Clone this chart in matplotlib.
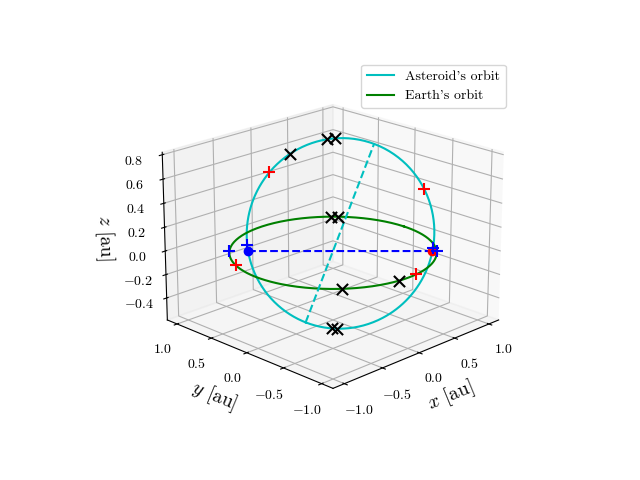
import numpy as np
import matplotlib
matplotlib.use("Agg")
import matplotlib.pyplot as plt

plt.rcParams["font.family"] = "serif"
plt.rcParams["font.serif"] = ["cmr10"]
plt.rcParams["mathtext.fontset"] = "cm"
plt.rcParams["axes.formatter.use_mathtext"] = True

# asteroid orbital elements (estimated)
a_ast = 0.93
e_ast = 0.22
inc = np.radians(40.0)
node = np.radians(-45.0)
argp = np.radians(249.0)

# true anomalies of markers on the asteroid orbit [deg]
nu_black = [20, 24, 200, 204, 225]
nu_red = [240, 145]
nu_blue = [287, 113]
# Earth longitudes of markers [deg]
phi_black = [42, 46, -130, -97]
phi_red = [158, -84]
phi_blue = [135, -45]


def orbit_xyz(nu_deg):
    nu = np.radians(np.asarray(nu_deg, dtype=float))
    r = a_ast * (1 - e_ast**2) / (1 + e_ast * np.cos(nu))
    u = argp + nu
    x = r * (np.cos(node) * np.cos(u) - np.sin(node) * np.sin(u) * np.cos(inc))
    y = r * (np.sin(node) * np.cos(u) + np.cos(node) * np.sin(u) * np.cos(inc))
    z = r * np.sin(u) * np.sin(inc)
    return x, y, z


def earth_xyz(phi_deg):
    p = np.radians(np.asarray(phi_deg, dtype=float))
    return np.cos(p), np.sin(p), np.zeros_like(p)


fig = plt.figure(figsize=(6.4, 4.8), dpi=100)
ax = fig.add_subplot(projection="3d")

t = np.linspace(0, 360, 400)
ax.plot(*orbit_xyz(t), "c", label="Asteroid's orbit")
ax.plot(*earth_xyz(t), "g", label="Earth's orbit")

# line of apsides and line of nodes
ax.plot(*orbit_xyz([0, 180]), "c--")
nodes = orbit_xyz([-np.degrees(argp), 180 - np.degrees(argp)])
ax.plot(*nodes, "b--")
ax.plot([nodes[0][1]], [nodes[1][1]], [nodes[2][1]], "bo")
ax.plot([nodes[0][0]], [nodes[1][0]], [nodes[2][0]], "ro")

kw = dict(depthshade=False)
ax.scatter(*orbit_xyz(nu_black), c="k", marker="x", s=65, **kw)
ax.scatter(*earth_xyz(phi_black), c="k", marker="x", s=65, **kw)
ax.scatter(*orbit_xyz(nu_red), c="r", marker="+", s=65, **kw)
ax.scatter(*earth_xyz(phi_red), c="r", marker="+", s=65, **kw)
ax.scatter(*orbit_xyz(nu_blue), c="b", marker="+", s=85, **kw)
ax.scatter(*earth_xyz(phi_blue), c="b", marker="+", s=85, **kw)

ax.set_xticks([-1, -0.5, 0, 0.5, 1])
ax.set_yticks([-1, -0.5, 0, 0.5, 1])
ax.set_zticks([-0.4, -0.2, 0, 0.2, 0.4, 0.6, 0.8])
ax.set_zlim(-0.59, 0.82)
ax.set_xlabel(r"$x$ [au]", fontsize=14)
ax.set_ylabel(r"$y$ [au]", fontsize=14)
ax.set_zlabel(r"$z$ [au]", fontsize=14)
ax.view_init(elev=20, azim=-135)
ax.legend(loc="upper right")

fig.savefig("out.png")
